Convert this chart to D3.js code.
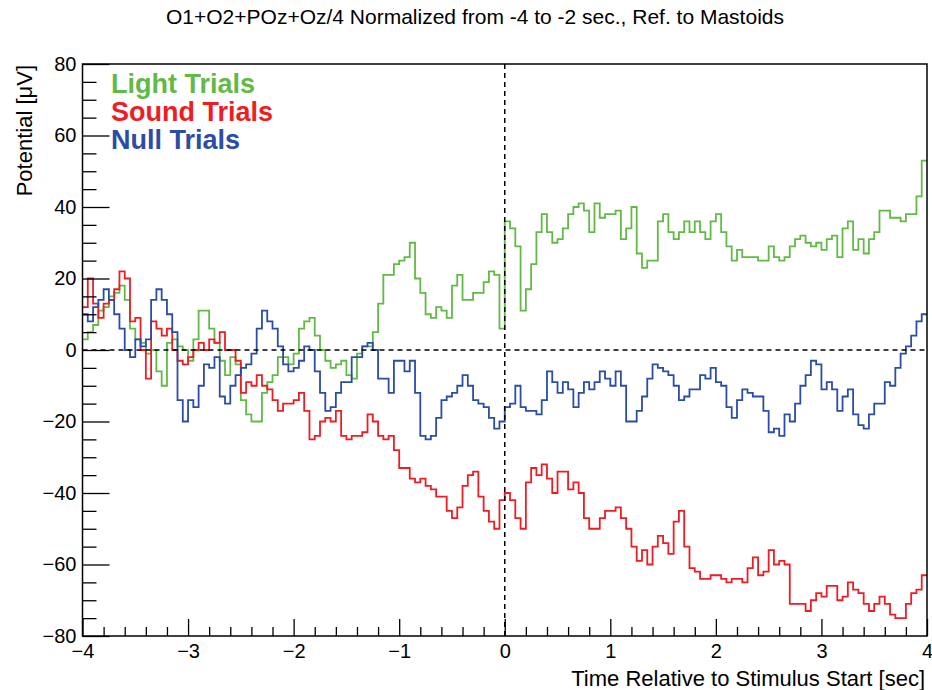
<!DOCTYPE html>
<html>
<head>
<meta charset="utf-8">
<script src="https://cdn.jsdelivr.net/npm/d3@7"></script>
<style>
  html, body { margin: 0; padding: 0; background: #fff; }
  svg { display: block; }
</style>
</head>
<body>
<svg id="chart" width="932" height="690"></svg>
<script>
// ---- Data ----
const title = "O1+O2+POz+Oz/4 Normalized from -4 to -2 sec., Ref. to Mastoids";
const xTitle = "Time Relative to Stimulus Start [sec]";
const yTitle = "Potential [\u03BCV]";
const seriesNames = ["Light Trials", "Sound Trials", "Null Trials"];

const timeStart = -4;      // left edge of first bin [sec]
const binWidth = 0.05;     // bin width [sec]

const lightValues = [
  3,5,7,11,12,15,16,18,14,6,3,2,-1,0,-6,-10,2,3,1,0,
  -3,3,11,11,6,2,-3,-7,-2,-4,-14,-18,-20,-20,-12,-9,-7,-2,-2,-4,
  -1,6,8,9,4,0,-3,-5,-4,-3,-7,-8,-1,1,1,5,13,21,21,24,
  25,26,30,20,16,10,9,12,11,9,18,21,14,14,16,16,19,22,21,6,
  36,34,29,11,17,24,33,38,33,30,31,34,38,40,41,39,33,41,37,38,
  38,39,31,34,40,27,23,25,25,36,38,33,31,33,36,33,36,33,31,36,
  38,33,29,25,28,26,26,26,25,25,29,26,25,26,29,31,32,30,29,30,
  28,31,32,26,34,36,28,31,27,31,33,39,39,37,37,36,38,38,43,53
];
const soundValues = [
  12,20,13,9,13,14,17,22,20,8,9,0,-8,8,6,4,6,0,-3,-4,
  -2,0,2,0,3,2,5,0,0,-3,-12,-9,-10,-7,-10,-11,-14,-17,-15,-15,
  -14,-12,-17,-25,-24,-20,-19,-20,-17,-24,-25,-24,-24,-23,-18,-20,-24,-25,-24,-28,
  -33,-33,-36,-37,-36,-38,-39,-41,-41,-45,-47,-44,-38,-35,-34,-41,-45,-48,-50,-42,
  -40,-42,-47,-50,-37,-33,-35,-32,-36,-40,-34,-34,-39,-37,-40,-47,-50,-50,-47,-45,
  -45,-44,-47,-50,-55,-59,-56,-60,-55,-52,-54,-57,-48,-45,-55,-61,-62,-64,-64,-63,
  -63,-64,-65,-64,-64,-65,-61,-58,-63,-62,-56,-60,-59,-60,-71,-71,-71,-73,-70,-68,
  -69,-66,-66,-70,-69,-65,-67,-68,-71,-73,-71,-69,-71,-74,-75,-75,-71,-68,-67,-63
];
const nullValues = [
  10,8,12,14,17,14,10,6,0,-2,3,1,3,14,17,14,10,5,-14,-20,
  -14,-16,-10,-4,-5,-2,-13,-15,-10,-7,-5,-4,-1,6,11,8,6,1,-4,-6,
  -5,-3,1,0,-6,-12,-17,-16,-12,-9,-9,-2,-2,1,2,0,-8,-8,-12,-3,
  -3,-6,-3,-12,-24,-25,-24,-19,-14,-13,-12,-10,-7,-10,-14,-15,-16,-19,-22,-20,
  -16,-15,-10,-16,-17,-17,-18,-14,-6,-9,-12,-9,-11,-16,-12,-9,-11,-9,-6,-8,
  -10,-6,-10,-20,-20,-17,-13,-8,-4,-5,-6,-7,-10,-14,-13,-11,-11,-7,-8,-5,
  -9,-10,-16,-19,-14,-11,-12,-13,-13,-17,-23,-22,-24,-18,-20,-15,-10,-7,-3,-4,
  -11,-9,-11,-17,-13,-11,-18,-21,-22,-18,-15,-15,-9,-10,-5,-1,1,4,8,10
];

const xTickValues = [-4,-3,-2,-1,0,1,2,3,4];
const xTickLabels = ["\u22124","\u22123","\u22122","\u22121","0","1","2","3","4"];
const yTickValues = [-80,-60,-40,-20,0,20,40,60,80];
const yTickLabels = ["\u221280","\u221260","\u221240","\u221220","0","20","40","60","80"];

// ---- Layout ----
const FONT = "'Liberation Sans', Arial, Helvetica, sans-serif";
const colors = ["#62b946", "#ee1d23", "#2b4da3"];
const svg = d3.select("#chart");
const L = 82.5, R = 927, T = 64, B = 636;

const x = d3.scaleLinear().domain([-4, 4]).range([L, R]);
const y = d3.scaleLinear().domain([-80, 80]).range([B, T]);

// clip
svg.append("defs").append("clipPath").attr("id", "clip")
  .append("rect").attr("x", L).attr("y", T).attr("width", R - L).attr("height", B - T);

// histograms as step outlines
function histPoints(vals) {
  const pts = vals.map((v, i) => [timeStart + i * binWidth, v]);
  pts.push([timeStart + vals.length * binWidth, vals[vals.length - 1]]);
  return pts;
}
const line = d3.line().x(d => x(d[0])).y(d => y(d[1])).curve(d3.curveStepAfter);
const gH = svg.append("g").attr("clip-path", "url(#clip)");
[lightValues, soundValues, nullValues].forEach((vals, k) => {
  gH.append("path").datum(histPoints(vals))
    .attr("d", line).attr("fill", "none")
    .attr("stroke", colors[k]).attr("stroke-width", 1.8)
    .attr("stroke-linejoin", "miter");
});

// dashed reference lines
svg.append("line").attr("x1", x(0)).attr("x2", x(0)).attr("y1", T).attr("y2", B)
  .attr("stroke", "#000").attr("stroke-width", 1.5).attr("stroke-dasharray", "5,4");
svg.append("line").attr("x1", L).attr("x2", R).attr("y1", y(0)).attr("y2", y(0))
  .attr("stroke", "#000").attr("stroke-width", 1.5).attr("stroke-dasharray", "5,4");

// axes
const xMinor = d3.range(-4, 4.0001, 0.2).filter(v => Math.abs(v - Math.round(v)) > 1e-6);
const yMinor = d3.range(-80, 80.0001, 5).filter(v => v % 20 !== 0);

const gxMinor = svg.append("g").attr("transform", `translate(0,${B})`)
  .call(d3.axisBottom(x).tickValues(xMinor).tickFormat("").tickSize(-9));
const gx = svg.append("g").attr("transform", `translate(0,${B})`)
  .call(d3.axisBottom(x).tickValues(xTickValues)
    .tickFormat((d, i) => xTickLabels[i]).tickSize(-17).tickPadding(8));
const gyMinor = svg.append("g").attr("transform", `translate(${L},0)`)
  .call(d3.axisLeft(y).tickValues(yMinor).tickFormat("").tickSize(-14));
const gy = svg.append("g").attr("transform", `translate(${L},0)`)
  .call(d3.axisLeft(y).tickValues(yTickValues)
    .tickFormat((d, i) => yTickLabels[i]).tickSize(-27).tickPadding(6));

[gx, gxMinor, gy, gyMinor].forEach(g => {
  g.select(".domain").remove();
  g.selectAll("line").attr("stroke", "#000").attr("stroke-width", 1.3);
  g.selectAll("text").attr("font-family", FONT).attr("font-size", 20).attr("fill", "#000");
});

// frame
svg.append("rect").attr("x", L).attr("y", T).attr("width", R - L).attr("height", B - T)
  .attr("fill", "none").attr("stroke", "#000").attr("stroke-width", 1.5);

// titles
svg.append("text").attr("x", 475).attr("y", 24).attr("text-anchor", "middle")
  .attr("font-family", FONT).attr("font-size", 21).text(title);
svg.append("text").attr("x", 925).attr("y", 686).attr("text-anchor", "end")
  .attr("font-family", FONT).attr("font-size", 22).text(xTitle);
svg.append("text").attr("transform", "translate(32,65) rotate(-90)")
  .attr("text-anchor", "end").attr("font-family", FONT).attr("font-size", 22).text(yTitle);

// legend
const legY = [93, 121, 149];
seriesNames.forEach((n, k) => {
  svg.append("text").attr("x", 111).attr("y", legY[k])
    .attr("font-family", FONT).attr("font-weight", "bold").attr("font-size", 27)
    .attr("fill", colors[k]).text(n);
});
</script>
</body>
</html>
